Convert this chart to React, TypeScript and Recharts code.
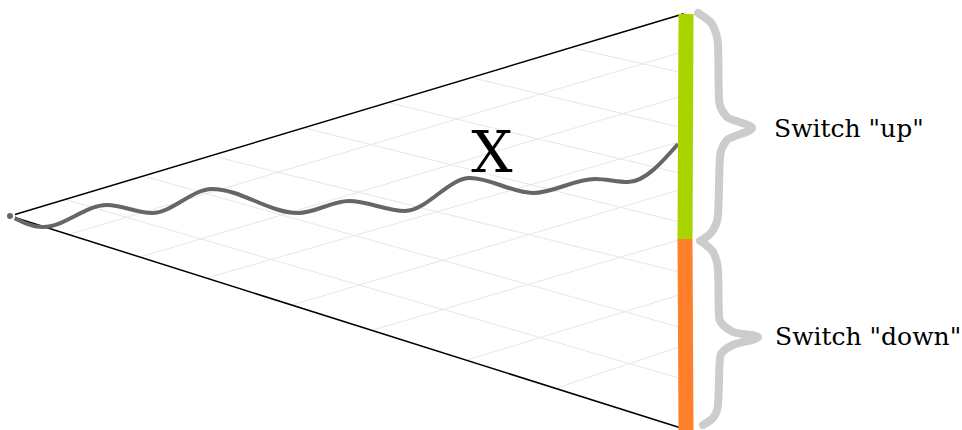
import React from "react";
import { ComposedChart, Line, XAxis, YAxis, ReferenceDot } from "recharts";

// diagram space: x 0..962 (left to right), y 0..430 (top to bottom)
const upperEdgeX = [10, 683, 684];
const upperEdgeY = [216, 14, 18];
const lowerEdgeX = [10, 681];
const lowerEdgeY = [216, 428];

// grid lines rising to the right (start on lower edge, end on the switch)
const risingStartX = [67, 140, 207, 292, 373, 467, 557];
const risingStartY = [235, 257, 278, 305, 330, 360, 388];
const risingEndY = [53, 97, 142, 190, 240, 295, 347];

// grid lines falling to the right (start on upper edge, end on the switch)
const fallingStartX = [67, 147, 217, 305, 390, 473, 573];
const fallingStartY = [200, 177, 157, 128, 103, 78, 48];
const fallingEndY = [378, 327, 272, 222, 173, 127, 72];
const gridEndX = 679;

// the wavy signal X
const waveX = [10, 43, 107, 152, 212, 298, 349, 405, 470, 533, 595, 628, 678];
const waveY = [216, 227, 205, 213, 189, 213, 201, 211, 178, 193, 179, 182, 144];

// switch segments
const switchUpX = [686, 685];
const switchUpY = [14, 239];
const switchDownX = [685, 686];
const switchDownY = [239, 430];

// braces
const braceUpX = [698, 712, 718, 719, 727, 752, 727, 720, 718, 711, 700];
const braceUpY = [13, 24, 45, 100, 117, 128, 140, 157, 215, 233, 241];
const braceDownX = [702, 713, 718, 719, 733, 758, 733, 720, 718, 713, 703];
const braceDownY = [242, 252, 270, 317, 332, 337, 345, 357, 405, 418, 425];

const labels = ['Switch "up"', 'Switch "down"', "X"];
const labelX = [774, 775, 492];
const labelY = [137, 345, 172];

const pts = (xs: number[], ys: number[]) => xs.map((x, i) => ({ x, y: ys[i] }));

const gridLines = [
  ...risingStartX.map((x, i) => [
    { x, y: risingStartY[i] },
    { x: gridEndX, y: risingEndY[i] },
  ]),
  ...fallingStartX.map((x, i) => [
    { x, y: fallingStartY[i] },
    { x: gridEndX, y: fallingEndY[i] },
  ]),
];

const FONT = "'DejaVu Serif', serif";

export default function App() {
  return (
    <div style={{ position: "absolute", left: 0, top: 0, background: "#fff" }}>
      <ComposedChart width={962} height={430} margin={{ top: 0, right: 0, bottom: 0, left: 0 }}>
        <XAxis type="number" dataKey="x" domain={[0, 962]} hide allowDataOverflow />
        <YAxis type="number" dataKey="y" domain={[0, 430]} reversed hide allowDataOverflow />
        {gridLines.map((seg, i) => (
          <Line
            key={`grid-${i}`}
            data={seg}
            dataKey="y"
            stroke="#e6e6e6"
            strokeWidth={1}
            dot={false}
            type="linear"
            isAnimationActive={false}
          />
        ))}
        <Line data={pts(upperEdgeX, upperEdgeY)} dataKey="y" stroke="#000" strokeWidth={1.5} dot={false} type="linear" isAnimationActive={false} />
        <Line data={pts(lowerEdgeX, lowerEdgeY)} dataKey="y" stroke="#000" strokeWidth={1.5} dot={false} type="linear" isAnimationActive={false} />
        <Line data={pts(waveX, waveY)} dataKey="y" stroke="#666666" strokeWidth={4} dot={false} type="monotone" isAnimationActive={false} />
        <Line data={pts(switchUpX, switchUpY)} dataKey="y" stroke="#aad400" strokeWidth={15} dot={false} type="linear" isAnimationActive={false} />
        <Line data={pts(switchDownX, switchDownY)} dataKey="y" stroke="#ff7f2a" strokeWidth={15} dot={false} type="linear" isAnimationActive={false} />
        <Line data={pts(braceUpX, braceUpY)} dataKey="y" stroke="#cccccc" strokeWidth={8} strokeLinecap="round" dot={false} type="monotoneY" isAnimationActive={false} />
        <Line data={pts(braceDownX, braceDownY)} dataKey="y" stroke="#cccccc" strokeWidth={8} strokeLinecap="round" dot={false} type="monotoneY" isAnimationActive={false} />
        {labels.map((text, i) => (
          <ReferenceDot
            key={text}
            x={labelX[i]}
            y={labelY[i]}
            r={0}
            shape={(p: any) => (
              <text
                x={p.cx}
                y={p.cy}
                fontFamily={FONT}
                fontSize={i === 2 ? 58 : 25}
                textAnchor={i === 2 ? "middle" : "start"}
                fill="#000"
              >
                {text}
              </text>
            )}
          />
        ))}
      </ComposedChart>
    </div>
  );
}
